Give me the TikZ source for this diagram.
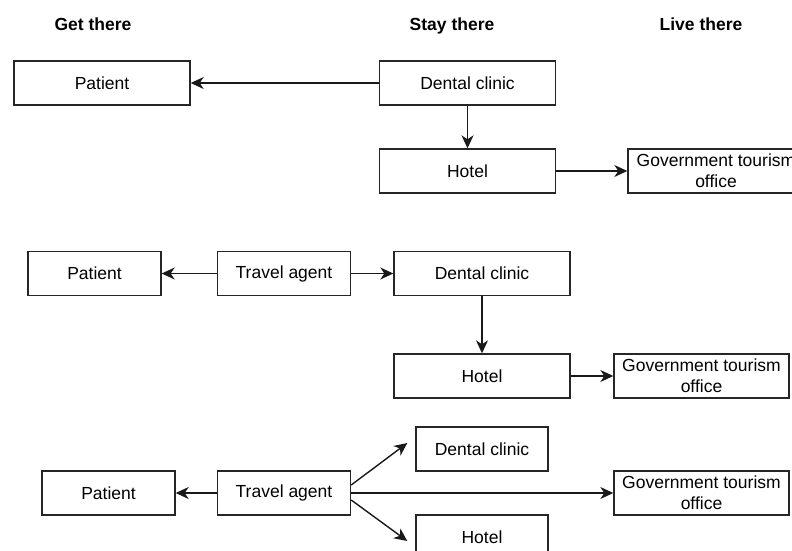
\documentclass[tikz,border=0pt]{standalone}
\usepackage{fontspec}
\setmainfont{Liberation Sans}
\usetikzlibrary{arrows.meta,calc}
\begin{document}
\begin{tikzpicture}[x=1pt,y=-1pt,
  box/.style={draw=black!85,line width=1.4pt,inner sep=0pt,align=center,
    font=\fontsize{17.5}{21}\selectfont},
  wide/.style={box,minimum width=176pt,minimum height=44pt},
  narrow/.style={box,minimum width=133pt,minimum height=44pt},
  hdr/.style={font=\fontsize{17.5}{21}\selectfont\bfseries},
  conn/.style={line width=1.4pt,draw=black!90,-{Stealth[length=13pt,width=12pt,inset=4pt]}}]
\useasboundingbox (0,0) rectangle (792,550);
\clip (0,0) rectangle (792,550);
% headers
\node[hdr] (h1) at (93,24) {Get there};
\node[hdr] (h2) at (452,25.5) {Stay there};
\node[hdr] (h3) at (701,24) {Live there};
% top row
\node[wide] (P1) at (102,83) {Patient};
\node[wide] (D1) at (467.5,83) {Dental clinic};
\node[wide] (H1) at (467.5,171) {Hotel};
\node[wide] (G1) at (716,171) {Government tourism\\office};
\draw[conn] (D1.west) -- (P1.east);
\draw[conn] (D1.south) -- (H1.north);
\draw[conn] (H1.east) -- (G1.west);
% middle row
\node[narrow] (P2) at (94.5,273.5) {Patient};
\node[narrow] (T2) at (284,273.5) {Travel agent};
\node[wide] (D2) at (482,273.5) {Dental clinic};
\node[wide] (H2) at (482,376) {Hotel};
\node[wide,minimum width=175pt] (G2) at (701.5,376) {Government tourism\\office};
\draw[conn] (T2.west) -- (P2.east);
\draw[conn] (T2.east) -- (D2.west);
\draw[conn] (D2.south) -- (H2.north);
\draw[conn] (H2.east) -- (G2.west);
% bottom row
\node[narrow,minimum width=132pt] (D3) at (482,449) {Dental clinic};
\node[narrow] (P3) at (108.5,493) {Patient};
\node[narrow] (T3) at (284,493) {Travel agent};
\node[wide,minimum width=175pt] (G3) at (701.5,493) {Government tourism\\office};
\node[narrow,minimum width=132pt] (H3) at (482,537) {Hotel};
\draw[conn] (T3.west) -- (P3.east);
\draw[conn] (T3.east) -- (G3.west);
\draw[conn] ($(T3.east)+(0,-8)$) -- ($(D3.west)+(-8,-6)$);
\draw[conn] ($(T3.east)+(0,7)$) -- ($(H3.west)+(-8,4)$);
\end{tikzpicture}
\end{document}
